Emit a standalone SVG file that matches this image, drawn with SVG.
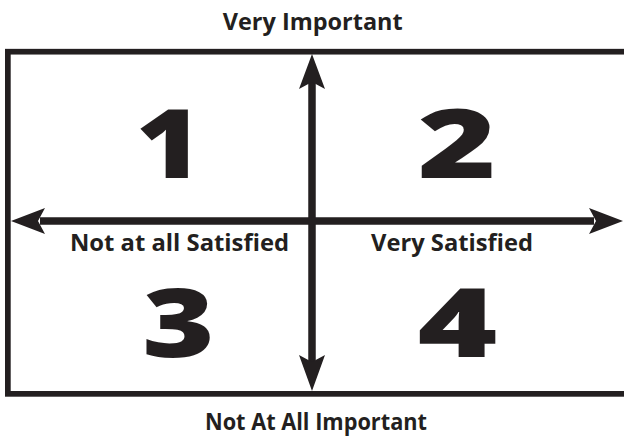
<svg xmlns="http://www.w3.org/2000/svg" width="624" height="439" viewBox="0 0 624 439">
<style>
.lbl{font-family:"Open Sans","Liberation Sans",sans-serif;font-weight:700;font-size:23.5px;fill:#231f20}
.num{font-family:"Open Sans","Liberation Sans",sans-serif;font-weight:800;font-size:96px;fill:#231f20;text-anchor:middle}
.ln{stroke:#231f20;fill:none}
.hd{fill:#231f20}
</style>
<rect width="624" height="439" fill="#fff"/>
<g id="frame"><rect class="ln" x="7.85" y="51.7" width="700" height="342.15" stroke-width="5.7"/></g>
<g id="connectors">
<line class="ln" x1="312" y1="80" x2="312" y2="365" stroke-width="7.5"/>
<polygon class="hd" points="312,54 325,89 312,82 299,89"/>
<polygon class="hd" points="312,391 299,355 312,362 325,355"/>
<line class="ln" x1="40" y1="221" x2="594" y2="221" stroke-width="7.5"/>
<polygon class="hd" points="11,221 45,208 38,221 45,234"/>
<polygon class="hd" points="623,221 589,208 596,221 589,234"/>
</g>
<g id="q1"><text class="num" x="169" y="178" transform="translate(169,0) scale(1.18,1) translate(-169,0)">1</text></g>
<g id="q2"><text class="num" x="457" y="178" transform="translate(457,0) scale(1.4,1) translate(-457,0)">2</text></g>
<g id="q3"><text class="num" x="178.5" y="357" transform="translate(178.5,0) scale(1.29,1) translate(-178.5,0)">3</text></g>
<g id="q4"><text class="num" x="457.5" y="357" transform="translate(457.5,0) scale(1.42,1) translate(-457.5,0)">4</text></g>
<g id="top"><text class="lbl" x="222.7" y="29.5" textLength="180" lengthAdjust="spacingAndGlyphs">Very Important</text></g>
<g id="bottom"><text class="lbl" x="205" y="430" textLength="222" lengthAdjust="spacingAndGlyphs">Not At All Important</text></g>
<g id="left"><text class="lbl" x="70" y="251" textLength="219" lengthAdjust="spacingAndGlyphs">Not at all Satisfied</text></g>
<g id="right"><text class="lbl" x="371" y="251" textLength="162" lengthAdjust="spacingAndGlyphs">Very Satisfied</text></g>
</svg>
